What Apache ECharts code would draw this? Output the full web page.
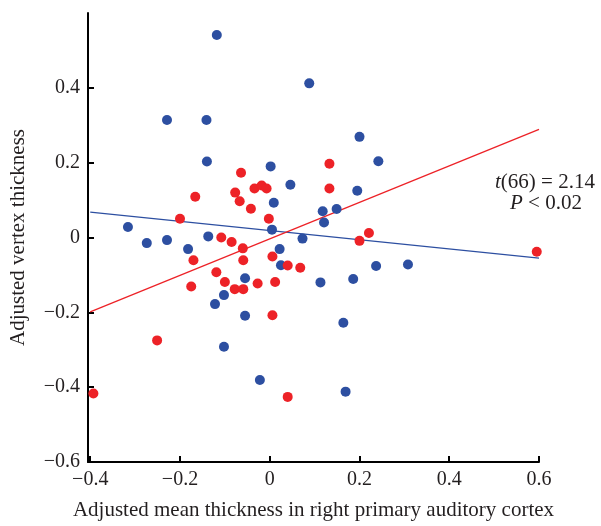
<!DOCTYPE html>
<html>
<head>
<meta charset="utf-8">
<script src="https://cdn.jsdelivr.net/npm/echarts@6/dist/echarts.min.js"></script>
<style>
  html, body { margin: 0; padding: 0; background: #fff; }
  #chart { width: 601px; height: 526px; }
</style>
</head>
<body>
<div id="chart"></div>
<script>
const FONT = 'Liberation Serif'
const BLUE = '#2d4fa1'
const RED = '#ed2227'

const xTicks = [-0.4, -0.2, 0, 0.2, 0.4, 0.6]
const yTicks = [-0.6, -0.4, -0.2, 0, 0.2, 0.4]

// blue group
const blueX = [-0.118, 0.088, -0.229, -0.141, 0.200, 0.242, -0.140, 0.002, 0.046, 0.195, 0.009, 0.118, 0.149, 0.121, 0.005, -0.316, -0.274, -0.229, -0.182, -0.137, 0.022, 0.073, 0.025, -0.055, -0.102, -0.122, -0.055, -0.102, -0.022, 0.113, 0.186, 0.237, 0.308, 0.164, 0.169]
const blueY = [0.541, 0.412, 0.314, 0.314, 0.269, 0.204, 0.203, 0.190, 0.141, 0.125, 0.093, 0.070, 0.076, 0.040, 0.021, 0.028, -0.015, -0.007, -0.031, 0.003, -0.031, -0.003, -0.074, -0.109, -0.154, -0.178, -0.209, -0.292, -0.381, -0.120, -0.111, -0.076, -0.072, -0.228, -0.412]

// red group
const redX = [-0.393, -0.251, -0.200, -0.166, -0.170, -0.064, -0.077, -0.067, -0.042, -0.034, -0.018, -0.007, -0.002, -0.108, -0.085, -0.060, -0.059, 0.006, -0.119, -0.100, -0.175, -0.078, -0.059, -0.027, 0.012, 0.006, 0.040, 0.040, 0.068, 0.133, 0.133, 0.221, 0.200, 0.595]
const redY = [-0.417, -0.275, 0.050, 0.109, -0.061, 0.173, 0.120, 0.097, 0.077, 0.131, 0.139, 0.131, 0.050, 0.000, -0.012, -0.029, -0.061, -0.051, -0.093, -0.119, -0.131, -0.138, -0.138, -0.123, -0.119, -0.208, -0.426, -0.075, -0.081, 0.197, 0.131, 0.012, -0.009, -0.038]

// fitted lines (end points)
const fitX = [-0.4, 0.6]
const blueFitY = [0.068, -0.055]
const redFitY = [-0.199, 0.289]

const zip = (xs, ys) => xs.map((x, i) => [x, ys[i]])
const fmt = v => String(Math.round(v * 10) / 10).replace('-', '\u2212')

const chart = echarts.init(document.getElementById('chart'))

chart.setOption({
  animation: false,
  textStyle: { fontFamily: FONT },
  grid: { left: 88, right: 62, top: 13, bottom: 64 },
  xAxis: {
    type: 'value',
    min: -0.405,
    max: 0.6,
    name: 'Adjusted mean thickness in right primary auditory cortex',
    nameLocation: 'middle',
    nameGap: 38,
    nameTextStyle: { fontFamily: FONT, fontSize: 21, color: '#231f20' },
    axisLine: { show: true, onZero: false, lineStyle: { color: '#000', width: 2 } },
    axisTick: { show: true, inside: true, length: 6, customValues: xTicks, lineStyle: { color: '#000', width: 2 } },
    axisLabel: { customValues: xTicks, formatter: fmt, fontFamily: FONT, fontSize: 20, color: '#231f20', margin: 8 },
    splitLine: { show: false }
  },
  yAxis: {
    type: 'value',
    min: -0.6,
    max: 0.6,
    name: 'Adjusted vertex thickness',
    nameLocation: 'middle',
    nameGap: 59,
    nameTextStyle: { fontFamily: FONT, fontSize: 21, color: '#231f20' },
    axisLine: { show: true, onZero: false, lineStyle: { color: '#000', width: 2 } },
    axisTick: { show: true, inside: true, length: 6, customValues: yTicks, lineStyle: { color: '#000', width: 2 } },
    axisLabel: { customValues: yTicks, formatter: fmt, fontFamily: FONT, fontSize: 20, color: '#231f20', margin: 8 },
    splitLine: { show: false }
  },
  graphic: [
    {
      type: 'text',
      left: 495,
      top: 172,
      style: {
        text: '{i|t}(66) = 2.14',
        fontFamily: FONT,
        fontSize: 21,
        fill: '#231f20',
        rich: { i: { fontStyle: 'italic', fontFamily: FONT, fontSize: 21 } }
      }
    },
    {
      type: 'text',
      left: 510,
      top: 193,
      style: {
        text: '{i|P} < 0.02',
        fontFamily: FONT,
        fontSize: 21,
        fill: '#231f20',
        rich: { i: { fontStyle: 'italic', fontFamily: FONT, fontSize: 21 } }
      }
    }
  ],
  series: [
    {
      type: 'line',
      data: zip(fitX, blueFitY),
      symbol: 'none',
      silent: true,
      lineStyle: { color: BLUE, width: 1.3 },
      z: 1
    },
    {
      type: 'line',
      data: zip(fitX, redFitY),
      symbol: 'none',
      silent: true,
      lineStyle: { color: RED, width: 1.3 },
      z: 1
    },
    {
      type: 'scatter',
      data: zip(blueX, blueY),
      symbolSize: 10,
      itemStyle: { color: BLUE, opacity: 1 },
      z: 2
    },
    {
      type: 'scatter',
      data: zip(redX, redY),
      symbolSize: 10,
      itemStyle: { color: RED, opacity: 1 },
      z: 3
    }
  ]
})
</script>
</body>
</html>
